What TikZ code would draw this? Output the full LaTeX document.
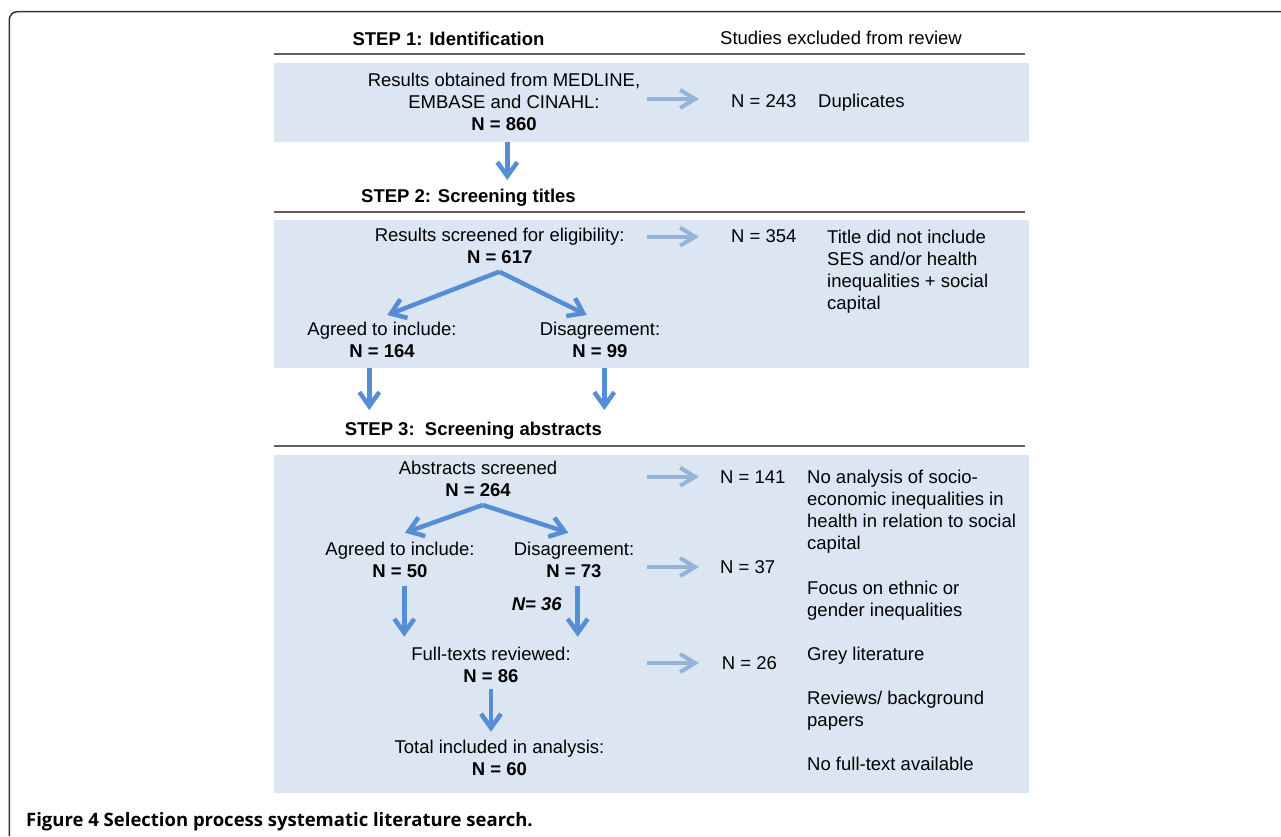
\documentclass[tikz,border=0pt]{standalone}
\usepackage{fontspec}
\setmainfont{Liberation Sans}
\newfontfamily\capfont{Open Sans}
\usetikzlibrary{arrows.meta}
\definecolor{bandcol}{RGB}{220,230,242}
\definecolor{dncol}{RGB}{85,142,213}
\definecolor{sidecol}{RGB}{149,179,215}
\definecolor{rulecol}{RGB}{95,95,95}
\tikzset{
 txt/.style={inner sep=0pt, anchor=base, align=center},
 ltxt/.style={inner sep=0pt, anchor=base west, align=left},
 head/.style={txt, font=\fontsize{18.5}{22}\selectfont\bfseries},
 band/.style={fill=bandcol},
 steprule/.style={draw=rulecol, line width=2pt},
 dnarrow/.style={dncol, line width=4.5pt, -{Straight Barb[length=14pt,width=20pt]}},
 sidearrow/.style={sidecol, line width=4pt, -{Straight Barb[length=15pt,width=18pt]}}
}

\begin{document}
\begin{tikzpicture}[x=1pt, y=-1pt, font=\fontsize{18.5}{22}\selectfont]
 \useasboundingbox (0,0) rectangle (1281,836); %全体
 \draw[line width=1.5pt, black!80, rounded corners=8pt] (9.3,836)--(9.3,11.7)--(1281,11.7); %外枠

 % 帯
 \fill[band] (273.5,62.7) rectangle (1029,141.7); %帯1
 \fill[band] (273.5,220) rectangle (1029,367.7); %帯2
 \fill[band] (273.5,455) rectangle (1029,793.3); %帯3
 \draw[steprule] (273.5,54) -- (1025,54); %線1
 \draw[steprule] (273.5,211.7) -- (1025,211.7); %線2
 \draw[steprule] (273.5,446) -- (1025,446); %線3

 % 見出し
 \node[head] (step1) at (448.5,45) {STEP 1: Identification};
 \node[txt] (excl) at (841,44) {Studies excluded from review};
 \node[head] (step2) at (468.5,202.3) {STEP 2: Screening titles};
 \node[head] (step3) at (473.3,435) {STEP 3:\ \ Screening abstracts};

 % STEP 1 (複数行は最終行のベースライン)
 \node[txt] (res) at (504,130.7) {Results obtained from MEDLINE,\\EMBASE and CINAHL:\\\textbf{N = 860}};
 \node[ltxt] (n243) at (731,107.3) {N = 243};
 \node[ltxt] (dup) at (818,107.3) {Duplicates};

 % STEP 2
 \node[txt] (scr) at (499.7,263.3) {Results screened for eligibility:\\\textbf{N = 617}};
 \node[ltxt] (n354) at (731,242.7) {N = 354};
 \node[ltxt] (title) at (827,309) {Title did not include\\SES and/or health\\inequalities + social\\capital};
 \node[txt] (agr1) at (382,357.3) {Agreed to include:\\\textbf{N = 164}};
 \node[txt] (dis1) at (600,357.3) {Disagreement:\\\textbf{N = 99}};

 % STEP 3
 \node[txt] (abs) at (478,496.7) {Abstracts screened\\\textbf{N = 264}};
 \node[ltxt] (n141) at (720,483.3) {N = 141};
 \node[ltxt] (noana) at (807,549.3) {No analysis of socio-\\economic inequalities in\\health in relation to social\\capital};
 \node[txt] (agr2) at (400,577.3) {Agreed to include:\\\textbf{N = 50}};
 \node[txt] (dis2) at (574,577.3) {Disagreement:\\\textbf{N = 73}};
 \node[ltxt] (n37) at (720,573.3) {N = 37};
 \node[ltxt] (focus) at (807,616) {Focus on ethnic or\\gender inequalities};
 \node[txt, font=\fontsize{18.5}{22}\selectfont\bfseries\itshape] (n36) at (536.7,610.7) {N= 36};
 \node[txt] (full) at (491,682.7) {Full-texts reviewed:\\\textbf{N = 86}};
 \node[ltxt] (n26) at (721.7,669.3) {N = 26};
 \node[ltxt] (grey) at (807,660) {Grey literature};
 \node[ltxt] (rev) at (807,726) {Reviews/ background\\papers};
 \node[txt] (total) at (499.5,775) {Total included in analysis:\\\textbf{N = 60}};
 \node[ltxt] (nofull) at (807,770) {No full-text available};

 % 矢印の端点
 \coordinate (d1s) at (507.3,141.7); %下矢印1
 \coordinate (d1e) at (507.3,180);
 \coordinate (b1o) at (499.3,271.7); %分岐1
 \coordinate (b1l) at (387.3,315);
 \coordinate (b1r) at (586.7,315);
 \coordinate (d2s) at (369.3,367.7); %下矢印2
 \coordinate (d2e) at (369.3,410);
 \coordinate (d3s) at (604.3,367.7); %下矢印3
 \coordinate (d3e) at (604.3,410);
 \coordinate (b2o) at (482.7,505); %分岐2
 \coordinate (b2l) at (405,532.7);
 \coordinate (b2r) at (568.3,532.7);
 \coordinate (d4s) at (404.3,585.7); %下矢印4
 \coordinate (d4e) at (404.3,636.7);
 \coordinate (d5s) at (577.7,585.7); %下矢印5
 \coordinate (d5e) at (577.7,636.7);
 \coordinate (d6s) at (491,689.3); %下矢印6
 \coordinate (d6e) at (491,731.7);
 \coordinate (s1s) at (647,99); %横矢印
 \coordinate (s1e) at (699,99);
 \coordinate (s2s) at (647,236.7);
 \coordinate (s2e) at (699,236.7);
 \coordinate (s3s) at (647,476.7);
 \coordinate (s3e) at (699,476.7);
 \coordinate (s4s) at (647,567);
 \coordinate (s4e) at (699,567);
 \coordinate (s5s) at (647,663);
 \coordinate (s5e) at (699,663);

 % 矢印
 \draw[dnarrow] (d1s) -- (d1e);
 \draw[dnarrow] (b1o) -- (b1l);
 \draw[dnarrow] (b1o) -- (b1r);
 \draw[dnarrow] (d2s) -- (d2e);
 \draw[dnarrow] (d3s) -- (d3e);
 \draw[dnarrow] (b2o) -- (b2l);
 \draw[dnarrow] (b2o) -- (b2r);
 \draw[dnarrow] (d4s) -- (d4e);
 \draw[dnarrow] (d5s) -- (d5e);
 \draw[dnarrow] (d6s) -- (d6e);
 \draw[sidearrow] (s1s) -- (s1e);
 \draw[sidearrow] (s2s) -- (s2e);
 \draw[sidearrow] (s3s) -- (s3e);
 \draw[sidearrow] (s4s) -- (s4e);
 \draw[sidearrow] (s5s) -- (s5e);

 % キャプション
 \node[inner sep=0pt, anchor=base west, font=\capfont\bfseries\fontsize{18.5}{22}\selectfont] (cap) at (26,826) {Figure 4 Selection process systematic literature search.};
\end{tikzpicture}
\end{document}
